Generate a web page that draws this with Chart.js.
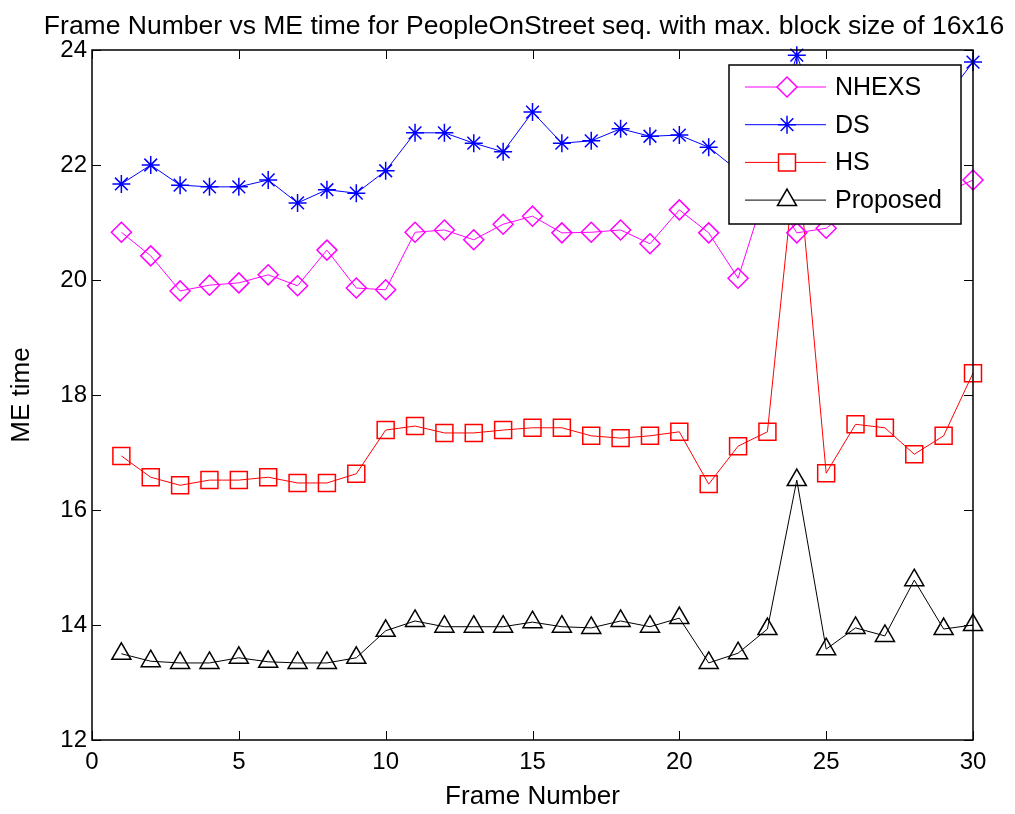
<!DOCTYPE html>
<html>
<head>
<meta charset="utf-8">
<title>ME time</title>
<script src="https://cdn.jsdelivr.net/npm/chart.js@4.4.1/dist/chart.umd.min.js"></script>
<style>
  html, body { margin: 0; padding: 0; background: #fff; }
  #wrap { width: 1015px; height: 814px; }
</style>
</head>
<body>
<div id="wrap"><canvas id="meChart" width="1015" height="814"></canvas></div>
<script>
// frame numbers on the x axis
const frames = [1, 2, 3, 4, 5, 6, 7, 8, 9, 10, 11, 12, 13, 14, 15,
  16, 17, 18, 19, 20, 21, 22, 23, 24, 25, 26, 27, 28, 29, 30];

// ME time per frame
const nhexs = [20.83, 20.42, 19.81, 19.91, 19.95, 20.09, 19.90, 20.52, 19.86, 19.83,
  20.83, 20.87, 20.70, 20.97, 21.11, 20.82, 20.83, 20.87, 20.63, 21.22,
  20.82, 20.03, 21.65, 20.82, 20.90, 21.30, 21.40, 21.25, 21.50, 21.74];
const ds = [21.67, 22.00, 21.65, 21.62, 21.62, 21.74, 21.34, 21.57, 21.51, 21.90,
  22.56, 22.56, 22.38, 22.23, 22.92, 22.38, 22.42, 22.63, 22.50, 22.52,
  22.31, 21.90, 22.20, 23.91, 22.50, 22.60, 22.70, 22.85, 23.12, 23.79];
const hs = [16.94, 16.57, 16.43, 16.52, 16.52, 16.57, 16.47, 16.47, 16.63, 17.39,
  17.46, 17.34, 17.34, 17.39, 17.43, 17.43, 17.29, 17.25, 17.29, 17.36,
  16.45, 17.11, 17.36, 22.30, 16.64, 17.49, 17.43, 16.97, 17.29, 18.38];
const proposed = [13.50, 13.37, 13.34, 13.34, 13.43, 13.36, 13.34, 13.34, 13.43, 13.90,
  14.07, 13.97, 13.97, 13.97, 14.05, 13.97, 13.95, 14.07, 13.97, 14.12,
  13.34, 13.51, 13.93, 16.52, 13.58, 13.95, 13.81, 14.78, 13.93, 14.00];

const xTicks = [0, 5, 10, 15, 20, 25, 30];
const yTicks = [12, 14, 16, 18, 20, 22, 24];

const FONT = '"Liberation Sans", Arial, Helvetica, sans-serif';

const toPoints = vals => vals.map((v, i) => ({ x: frames[i], y: v }));

const series = [
  { label: 'NHEXS', data: nhexs, color: '#ff00ff', style: 'rectRot', r: 10 },
  { label: 'DS', data: ds, color: '#0000ff', style: 'star', r: 9 },
  { label: 'HS', data: hs, color: '#ff0000', style: 'rect', r: 12 },
  { label: 'Proposed', data: proposed, color: '#000000', style: 'triangle', r: 11 }
];

// box, inward ticks, title and the boxed legend in MATLAB style
const matlabFrame = {
  id: 'matlabFrame',
  afterDraw(chart) {
    const { ctx, chartArea: a, scales } = chart;
    ctx.save();
    ctx.strokeStyle = '#000';
    ctx.lineWidth = 1.5;
    ctx.strokeRect(a.left, a.top, a.right - a.left, a.bottom - a.top);

    ctx.lineWidth = 1;
    ctx.beginPath();
    xTicks.forEach(t => {
      const px = Math.round(scales.x.getPixelForValue(t)) + 0.5;
      ctx.moveTo(px, a.bottom); ctx.lineTo(px, a.bottom - 9);
      ctx.moveTo(px, a.top); ctx.lineTo(px, a.top + 9);
    });
    yTicks.forEach(t => {
      const py = Math.round(scales.y.getPixelForValue(t)) + 0.5;
      ctx.moveTo(a.left, py); ctx.lineTo(a.left + 9, py);
      ctx.moveTo(a.right, py); ctx.lineTo(a.right - 9, py);
    });
    ctx.stroke();

    // title
    ctx.fillStyle = '#000';
    ctx.font = '26.5px ' + FONT;
    ctx.textAlign = 'center';
    ctx.textBaseline = 'middle';
    ctx.fillText('Frame Number vs ME time for PeopleOnStreet seq. with max. block size of 16x16', 524, 27);

    // legend
    const lx = 729, ly = 65, lw = 232, lh = 159;
    ctx.fillStyle = '#fff';
    ctx.fillRect(lx, ly, lw, lh);
    ctx.strokeStyle = '#000';
    ctx.lineWidth = 1.5;
    ctx.strokeRect(lx, ly, lw, lh);
    ctx.textAlign = 'left';
    series.forEach((s, i) => {
      const y = 87 + i * 37.7;
      ctx.strokeStyle = s.color;
      ctx.lineWidth = 1;
      ctx.beginPath();
      ctx.moveTo(745, y); ctx.lineTo(826, y);
      ctx.stroke();
      ctx.lineWidth = 1.5;
      ctx.fillStyle = '#fff';
      Chart.helpers.drawPoint(ctx, { pointStyle: s.style, radius: s.r, rotation: 0, borderWidth: 1.5 }, 787, y);
      ctx.fillStyle = '#000';
      ctx.font = '25px ' + FONT;
      ctx.fillText(s.label, 835, y + 1);
    });
    ctx.restore();
  }
};

new Chart(document.getElementById('meChart'), {
  type: 'line',
  data: {
    datasets: series.map(s => ({
      label: s.label,
      data: toPoints(s.data),
      borderColor: s.color,
      borderWidth: 1,
      backgroundColor: 'rgba(0,0,0,0)',
      pointStyle: s.style,
      pointRadius: s.r,
      pointBorderColor: s.color,
      pointBackgroundColor: 'rgba(0,0,0,0)',
      pointBorderWidth: 1.5,
      tension: 0,
      clip: false
    }))
  },
  options: {
    responsive: false,
    animation: false,
    layout: { padding: { top: 50, right: 42, left: 0, bottom: 0 } },
    plugins: {
      legend: { display: false },
      title: { display: false },
      tooltip: { enabled: false }
    },
    scales: {
      x: {
        type: 'linear',
        min: 0,
        max: 30,
        afterFit: s => { s.height = 74; },
        afterBuildTicks: s => { s.ticks = xTicks.map(v => ({ value: v })); },
        grid: { display: false, drawTicks: false },
        border: { display: false },
        ticks: { color: '#000', padding: 8, font: { family: FONT, size: 24 } },
        title: { display: true, text: 'Frame Number', color: '#000',
          padding: { top: 0, bottom: 2 }, font: { family: FONT, size: 26 } }
      },
      y: {
        type: 'linear',
        min: 12,
        max: 24,
        afterFit: s => { s.width = 92; },
        afterBuildTicks: s => { s.ticks = yTicks.map(v => ({ value: v })); },
        grid: { display: false, drawTicks: false },
        border: { display: false },
        ticks: { color: '#000', padding: 5, font: { family: FONT, size: 24 } },
        title: { display: true, text: 'ME time', color: '#000',
          padding: { top: 6, bottom: 0 }, font: { family: FONT, size: 26 } }
      }
    }
  },
  plugins: [matlabFrame]
});
</script>
</body>
</html>
